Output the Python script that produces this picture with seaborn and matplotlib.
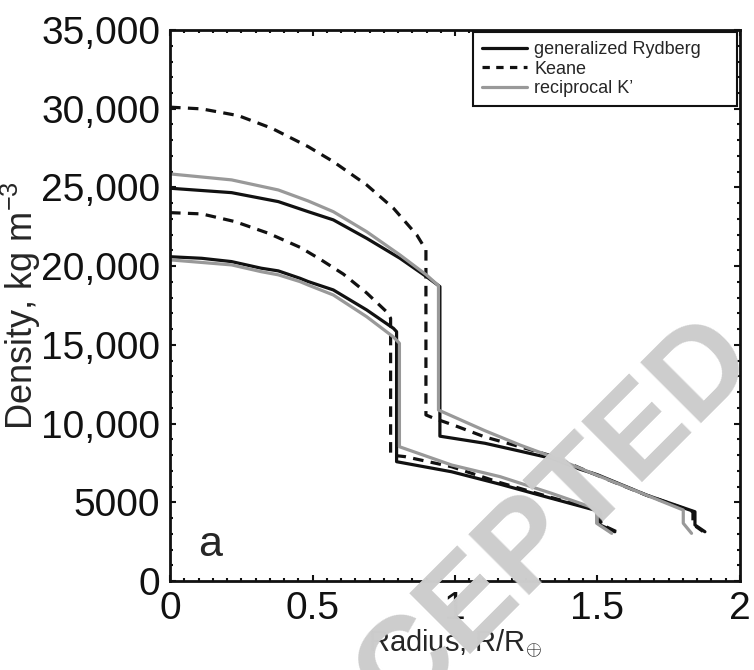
import numpy as np
import pandas as pd
import matplotlib
matplotlib.use("Agg")
import matplotlib.pyplot as plt
import seaborn as sns
from matplotlib.lines import Line2D
from matplotlib.ticker import MultipleLocator

# density profiles (radius in R/R_earth, density in kg m^-3)
# smaller planet
r_ryd_small = [0, 0.111, 0.216, 0.32, 0.38, 0.456, 0.485, 0.573, 0.69, 0.784, 0.795,
               0.795, 0.988, 1.158, 1.339, 1.49, 1.509, 1.509, 1.561]
rho_ryd_small = [20600, 20500, 20290, 19870, 19700, 19230, 19020, 18490, 17220, 16050, 15840,
                 7580, 6940, 6150, 5250, 4510, 4400, 3560, 3130]

r_kea_small = [0, 0.111, 0.228, 0.345, 0.456, 0.526, 0.608, 0.69, 0.76, 0.774,
               0.774, 0.825, 0.988, 1.158, 1.339, 1.49, 1.512, 1.512, 1.565]
rho_kea_small = [23400, 23320, 22830, 22090, 21200, 20450, 19500, 18300, 17100, 16690,
                 8000, 7900, 7260, 6250, 5300, 4550, 4450, 3600, 3150]

r_rec_small = [0, 0.216, 0.32, 0.38, 0.456, 0.485, 0.573, 0.69, 0.784, 0.805,
               0.805, 0.988, 1.158, 1.339, 1.49, 1.497, 1.497, 1.55]
rho_rec_small = [20400, 20080, 19650, 19450, 19020, 18800, 18170, 16790, 15500, 15100,
                 8530, 7370, 6630, 5570, 4620, 4510, 3670, 3030]

# larger planet
r_ryd_big = [0, 0.216, 0.38, 0.485, 0.573, 0.69, 0.807, 0.9, 0.947,
             0.947, 1.105, 1.228, 1.339, 1.439, 1.5, 1.672, 1.842, 1.842, 1.877]
rho_ryd_big = [24950, 24670, 24100, 23460, 22940, 21770, 20500, 19330, 18700,
               9200, 8750, 8250, 7790, 7100, 6750, 5460, 4400, 3560, 3130]

r_kea_big = [0, 0.111, 0.24, 0.357, 0.485, 0.573, 0.69, 0.784, 0.866, 0.898,
             0.898, 0.923, 0.994, 1.105, 1.228, 1.339, 1.474, 1.672, 1.835, 1.835, 1.87]
rho_kea_big = [30100, 29990, 29560, 28760, 27590, 26640, 25160, 23680, 21980, 21030,
               10550, 10360, 9910, 9150, 8530, 7950, 6900, 5450, 4400, 3600, 3150]

r_rec_big = [0, 0.216, 0.38, 0.485, 0.573, 0.69, 0.807, 0.9, 0.942,
             0.942, 1.105, 1.228, 1.339, 1.474, 1.6, 1.801, 1.801, 1.83]
rho_rec_big = [25860, 25480, 24840, 24140, 23460, 22190, 20710, 19440, 18760,
               10860, 9550, 8640, 7900, 6900, 5980, 4510, 3670, 3030]

eos_names = ["generalized Rydberg", "Keane", "reciprocal K\u2019"]
y_ticks = [0, 5000, 10000, 15000, 20000, 25000, 30000, 35000]
y_tick_labels = ["0", "5000", "10,000", "15,000", "20,000", "25,000", "30,000", "35,000"]
x_ticks = [0, 0.5, 1, 1.5, 2]
x_tick_labels = ["0", "0.5", "1", "1.5", "2"]

curves = [
    (eos_names[0], "small", r_ryd_small, rho_ryd_small),
    (eos_names[0], "big", r_ryd_big, rho_ryd_big),
    (eos_names[1], "small", r_kea_small, rho_kea_small),
    (eos_names[1], "big", r_kea_big, rho_kea_big),
    (eos_names[2], "small", r_rec_small, rho_rec_small),
    (eos_names[2], "big", r_rec_big, rho_rec_big),
]
frames = []
for eos, planet, r, rho in curves:
    d = pd.DataFrame({"r": r, "rho": rho})
    d["eos"] = eos
    d["planet"] = planet
    frames.append(d)
df = pd.concat(frames, ignore_index=True)

sns.set_style("ticks")
plt.rcParams["font.family"] = ["Liberation Sans", "DejaVu Sans"]
plt.rcParams["mathtext.fontset"] = "custom"
plt.rcParams["mathtext.rm"] = "Liberation Sans"
plt.rcParams["mathtext.it"] = "Liberation Sans"

colors = {eos_names[0]: "#111111", eos_names[1]: "#111111", eos_names[2]: "#999999"}
dash_map = {eos_names[0]: "", eos_names[1]: (3.3, 2.3), eos_names[2]: ""}

fig = plt.figure(figsize=(7.54, 6.70), dpi=100)

# "ACCEPTED" watermark, behind the axes
fig.text(0.655, 0.13, "ACCEPTED", rotation=45, fontsize=90, fontweight="bold",
         color="#cdcdcd", ha="center", va="center", zorder=0)

ax = fig.add_axes([0.2255, 0.1328, 0.7559, 0.8224])
ax.patch.set_alpha(0)

for eos in eos_names:
    sub = df[df["eos"] == eos]
    sns.lineplot(data=sub, x="r", y="rho", units="planet", estimator=None, sort=False,
                 color=colors[eos], ax=ax, legend=False, linewidth=2.3)
    for line in ax.lines[-2:]:
        if dash_map[eos]:
            line.set_dashes(dash_map[eos])
            line.set_dash_capstyle("butt")

ax.set_xlim(0, 2)
ax.set_ylim(0, 35000)
ax.set_xticks(x_ticks)
ax.set_xticklabels(x_tick_labels)
ax.set_yticks(y_ticks)
ax.set_yticklabels(y_tick_labels)
ax.xaxis.set_minor_locator(MultipleLocator(0.05))
ax.yaxis.set_minor_locator(MultipleLocator(1000))
ax.tick_params(which="both", direction="in", top=True, right=True, width=1.5, colors="#111111")
ax.tick_params(which="major", length=4, labelsize=28, pad=7)
ax.tick_params(which="minor", length=2)
for s in ax.spines.values():
    s.set_linewidth(2.0)
    s.set_color("#111111")

ax.set_xlabel("Radius, R/R$_{\\oplus}$", fontsize=21, labelpad=0)
ax.set_ylabel("Density, kg m$^{-3}$", fontsize=26)
ax.yaxis.set_label_coords(-0.222, 0.5)

ax.text(0.14, 2300, "a", fontsize=31, ha="center", va="center")

handles = [
    Line2D([], [], color="#111111", linewidth=2.3),
    Line2D([], [], color="#111111", linewidth=2.3, dashes=(2.3, 2.0)),
    Line2D([], [], color="#999999", linewidth=2.3),
]
leg = ax.legend(handles, eos_names, loc="upper left", bbox_to_anchor=(0.5316, 0.85, 0.463, 0.1464),
                mode="expand", fontsize=13, frameon=True, fancybox=False, framealpha=1,
                edgecolor="#111111", handlelength=2.5, handletextpad=0.4,
                borderpad=0.5, labelspacing=0.15, borderaxespad=0)
leg.get_frame().set_linewidth(1.5)

fig.savefig("out.png", dpi=100)
